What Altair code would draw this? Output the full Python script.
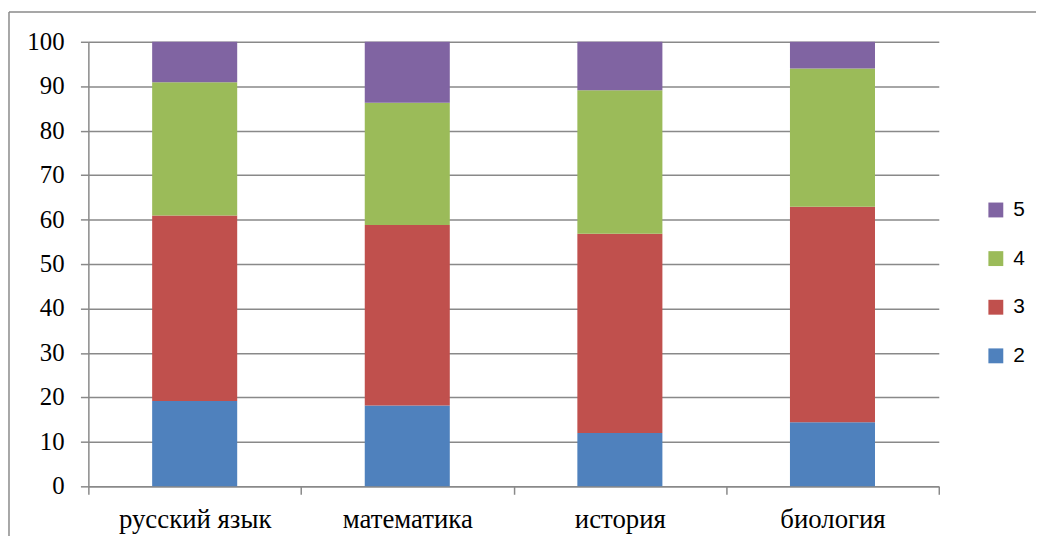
import altair as alt
import pandas as pd

subjects = ["русский язык", "математика", "история", "биология"]
grades = ["2", "3", "4", "5"]
grade2 = [19.2, 18.2, 12.0, 14.4]
grade3 = [41.7, 40.6, 44.8, 48.5]
grade4 = [30.0, 27.5, 32.3, 31.1]
grade5 = [9.1, 13.7, 10.9, 6.0]
grade_colors = ["#4F81BD", "#C0504D", "#9BBB59", "#8064A2"]
y_ticks = list(range(0, 101, 10))

rows = []
for g, vals in zip(grades, [grade2, grade3, grade4, grade5]):
    for s, v in zip(subjects, vals):
        rows.append({"subject": s, "grade": g, "ord": int(g), "value": v})
df = pd.DataFrame(rows)

legend_domain = grades[::-1]
legend_range = grade_colors[::-1]

grid_color = "#898989"


def y_axis():
    return alt.Axis(title=None, values=y_ticks, grid=True, tickSize=8, labels=False)


bars = alt.Chart(df).mark_bar(width=alt.RelativeBandSize(0.4)).encode(
    x=alt.X(
        "subject:N",
        sort=subjects,
        scale=alt.Scale(paddingInner=0, paddingOuter=0),
        axis=alt.Axis(
            title=None, labelAngle=0, grid=False, tickBand="extent",
            tickSize=8, labelFontSize=27, labelPadding=12,
            labelFont="Liberation Serif",
        ),
    ),
    y=alt.Y(
        "value:Q",
        stack="zero",
        scale=alt.Scale(domain=[0, 100], nice=False),
        axis=y_axis(),
    ),
    color=alt.Color(
        "grade:N",
        scale=alt.Scale(domain=legend_domain, range=legend_range),
        legend=alt.Legend(
            title=None, orient="none", legendX=904, legendY=159,
            symbolType="square", symbolSize=225, symbolStrokeWidth=0,
            labelFont="Liberation Sans", labelFontSize=21, labelColor="black",
            rowPadding=27, labelOffset=7,
        ),
    ),
    order=alt.Order("ord:Q", sort="ascending"),
)

tick_df = pd.DataFrame({"tick": y_ticks, "label": [str(t) for t in y_ticks]})
y_labels = alt.Chart(tick_df).mark_text(
    font="Liberation Serif", fontSize=25, color="black",
    align="right", baseline="middle", clip=False,
).encode(
    y=alt.Y("tick:Q", axis=y_axis(), scale=alt.Scale(domain=[0, 100], nice=False)),
    x=alt.value(-24),
    text="label:N",
)

frame_df = pd.DataFrame({"a": [0]})
frame_top = alt.Chart(frame_df).mark_rule(
    stroke="#8a8a8a", strokeWidth=1.5, clip=False
).encode(x=alt.value(-80), x2=alt.value(955), y=alt.value(-30))
frame_left = alt.Chart(frame_df).mark_rule(
    stroke="#8a8a8a", strokeWidth=1.5, clip=False
).encode(x=alt.value(-80), y=alt.value(-30), y2=alt.value(520))

chart = alt.layer(frame_top, frame_left, bars, y_labels).properties(
    width=857,
    height=448,
    autosize=alt.AutoSizeParams(type="none"),
    padding={"left": 81, "top": 32, "right": 101, "bottom": 48},
).configure_view(
    stroke=None
).configure_axis(
    labelColor="black",
    gridColor=grid_color, gridWidth=1.5,
    tickColor=grid_color, tickWidth=1.5,
    domainColor=grid_color, domainWidth=1.5,
)

chart.save("out.html", embed_options={"renderer": "svg", "actions": False})
